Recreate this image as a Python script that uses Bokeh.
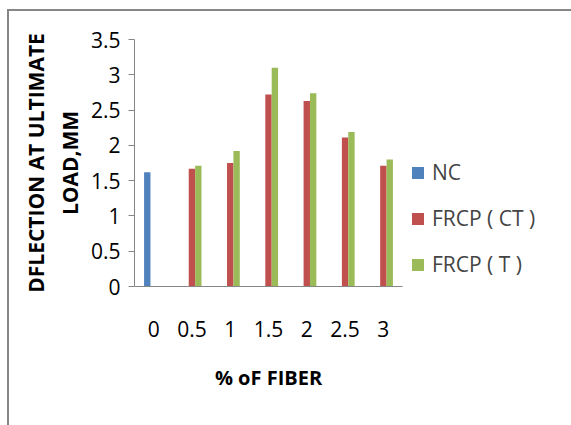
from bokeh.plotting import figure
from bokeh.models import (ColumnDataSource, FactorRange, Range1d, FixedTicker,
                          CustomJSTickFormatter, Legend, LegendItem)
from bokeh.transform import dodge
from bokeh.embed import file_html
from bokeh.resources import INLINE

fiber = ["0", "0.5", "1", "1.5", "2", "2.5", "3"]
nc_x = ["0"]
nc_vals = [1.62]
frcp_x = ["0.5", "1", "1.5", "2", "2.5", "3"]
ct_vals = [1.67, 1.75, 2.72, 2.63, 2.11, 1.71]
t_vals = [1.71, 1.92, 3.10, 2.74, 2.19, 1.80]
y_ticks = [0, 0.5, 1, 1.5, 2, 2.5, 3, 3.5]
series_names = ["NC", "FRCP ( CT )", "FRCP ( T )"]
colors = ["#4F81BD", "#C0504D", "#9BBB59"]

FONT = "Open Sans"
OX, OY = 9, 11  # offset of chart area (border) inside the window

p = figure(frame_width=268, frame_height=247, x_range=FactorRange(*fiber),
           y_range=Range1d(0, 3.5), output_backend="svg", toolbar_location=None,
           min_border_left=134 - OX, min_border_right=169, min_border_top=39 - OY,
           min_border_bottom=139)
p.styles = {"margin-left": "%dpx" % (OX - 2), "margin-top": "%dpx" % (OY - 2),
            "border-left": "2px solid #868686", "border-top": "2px solid #868686"}
p.outline_line_color = None
p.xgrid.grid_line_color = None
p.ygrid.grid_line_color = None
p.x_range.range_padding = 0
p.x_range.group_padding = 0

src_nc = ColumnDataSource(dict(x=nc_x, y=nc_vals))
src_fr = ColumnDataSource(dict(x=frcp_x, ct=ct_vals, t=t_vals))
w = 1 / 6.0
r_nc = p.vbar(x=dodge("x", -w, range=p.x_range), top="y", width=w, source=src_nc,
              fill_color=colors[0], line_color=None)
r_ct = p.vbar(x=dodge("x", 0, range=p.x_range), top="ct", width=w, source=src_fr,
              fill_color=colors[1], line_color=None)
r_t = p.vbar(x=dodge("x", w, range=p.x_range), top="t", width=w, source=src_fr,
             fill_color=colors[2], line_color=None)

# axes
yax = p.yaxis[0]
yax.ticker = FixedTicker(ticks=y_ticks)
yax.formatter = CustomJSTickFormatter(code="return tick.toString();")
yax.minor_tick_line_color = None
yax.major_tick_out = 6
yax.major_tick_in = 0
yax.axis_line_color = "#868686"
yax.major_tick_line_color = "#868686"
yax.major_label_text_font = FONT
yax.major_label_text_font_size = "21px"
yax.major_label_text_color = "black"
yax.major_label_standoff = 8
yax.axis_label = "DFLECTION AT ULTIMATE\nLOAD,MM"
yax.axis_label_text_font = FONT
yax.axis_label_text_font_style = "bold"
yax.axis_label_text_font_size = "21px"
yax.axis_label_text_color = "black"
yax.axis_label_standoff = 4

xax = p.xaxis[0]
xax.major_tick_out = 0
xax.major_tick_in = 0
xax.axis_line_color = "#868686"
xax.major_tick_line_color = None
xax.major_label_text_font = FONT
xax.major_label_text_font_size = "21px"
xax.major_label_text_color = "black"
xax.major_label_standoff = 34
xax.axis_label = "% oF FIBER"
xax.axis_label_text_font = FONT
xax.axis_label_text_font_style = "bold"
xax.axis_label_text_font_size = "20px"
xax.axis_label_text_color = "black"
xax.axis_label_standoff = 24

legend = Legend(items=[LegendItem(label=series_names[0], renderers=[r_nc]),
                       LegendItem(label=series_names[1], renderers=[r_ct]),
                       LegendItem(label=series_names[2], renderers=[r_t])],
                location="bottom_left", padding=0, margin=8, spacing=18,
                glyph_width=15, glyph_height=15, label_standoff=7,
                label_text_font=FONT, label_text_font_size="21px",
                border_line_color=None, background_fill_alpha=0)
p.add_layout(legend, "right")

open("out.html", "w").write(file_html(p, INLINE))
